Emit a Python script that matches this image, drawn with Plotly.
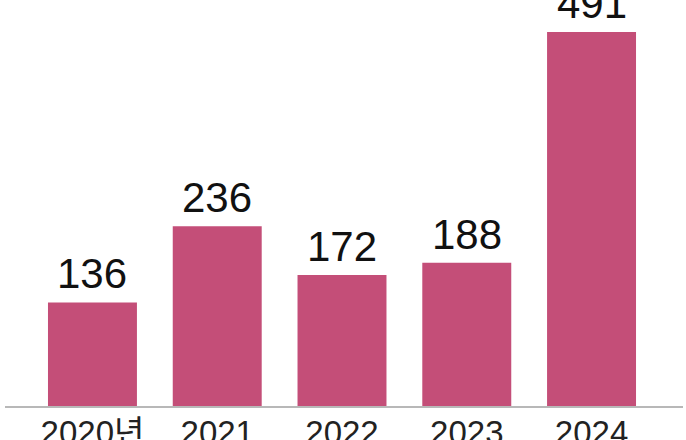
import plotly.graph_objects as go

categories = ["2020년", "2021", "2022", "2023", "2024"]
values = [136, 236, 172, 188, 491]

bar_color = "#c44e78"
font_family = "Liberation Sans, Arial, Noto Sans CJK KR, sans-serif"

fig = go.Figure()
fig.add_trace(go.Bar(
    x=list(range(len(categories))),
    y=values,
    marker=dict(color=bar_color, line=dict(width=0)),
    hoverinfo="skip",
))

for i, v in enumerate(values):
    fig.add_annotation(
        x=i, y=v, text=str(v), showarrow=False,
        xref="x", yref="y", yanchor="bottom", yshift=3,
        font=dict(family=font_family, size=42, color="#111111"),
    )

fig.update_layout(
    width=686, height=440,
    margin=dict(l=5, r=3, t=0, b=34),
    paper_bgcolor="white", plot_bgcolor="white",
    showlegend=False,
    bargap=0.287,
    xaxis=dict(
        tickmode="array",
        tickvals=list(range(len(categories))),
        ticktext=categories,
        range=[-0.701, 4.733],
        automargin=False,
        showline=True, linecolor="#b8b8b8", linewidth=2,
        showgrid=False, zeroline=False, ticks="",
        ticklabelstandoff=-4,
        tickfont=dict(family=font_family, size=33, color="#222222"),
    ),
    yaxis=dict(
        range=[0, 533], visible=False, showgrid=False, zeroline=False,
        automargin=False,
    ),
)

fig.write_html(
    "out.html",
    config={"displayModeBar": False},
    post_script="document.body.style.margin='0px';",
)
